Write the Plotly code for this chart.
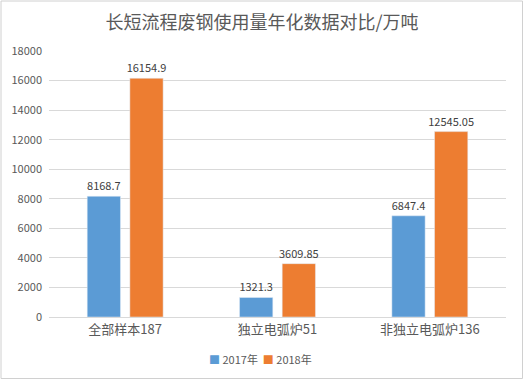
import plotly.graph_objects as go

categories = ["全部样本187", "独立电弧炉51", "非独立电弧炉136"]
series_names = ["2017年", "2018年"]
values_2017 = [8168.7, 1321.3, 6847.4]
values_2018 = [16154.9, 3609.85, 12545.05]
labels_2017 = ["8168.7", "1321.3", "6847.4"]
labels_2018 = ["16154.9", "3609.85", "12545.05"]
y_ticks = [0, 2000, 4000, 6000, 8000, 10000, 12000, 14000, 16000, 18000]
y_tick_labels = [str(v) for v in y_ticks]
colors = ["#5B9BD5", "#ED7D31"]

W, H = 524, 380
ml, mr, mt, mb = 49, 18, 51, 63
pw = W - ml - mr
ph = H - mt - mb

font_family = "Noto Sans CJK SC, Noto Sans, sans-serif"

fig = go.Figure()
fig.add_trace(go.Bar(x=categories, y=values_2017, name=series_names[0],
                     marker_color=colors[0], text=labels_2017,
                     textposition="outside", cliponaxis=False, constraintext="none",
                     textfont=dict(size=11, color="#404040")))
fig.add_trace(go.Bar(x=categories, y=values_2018, name=series_names[1],
                     marker_color=colors[1], text=labels_2018,
                     textposition="outside", cliponaxis=False, constraintext="none",
                     textfont=dict(size=11, color="#404040")))

legend_text = "  ".join(
    f'<span style="color:{c}">■</span> {n}' for c, n in zip(colors, series_names)
)

fig.update_layout(
    width=W, height=H,
    margin=dict(l=ml, r=mr, t=mt, b=mb, autoexpand=False),
    paper_bgcolor="white", plot_bgcolor="white",
    font=dict(family=font_family, color="#595959"),
    title=dict(text="长短流程废钢使用量年化数据对比/万吨", x=0.5, xanchor="center",
               y=1 - 23 / H, yanchor="middle",
               font=dict(size=18, color="#595959", family=font_family)),
    barmode="group", bargap=0.44, bargroupgap=0.22,
    showlegend=False,
    annotations=[dict(text=legend_text, xref="paper", yref="paper",
                      x=(260 - ml) / pw, y=-(359 - mt - ph) / ph,
                      xanchor="center", yanchor="middle", showarrow=False,
                      font=dict(size=11, color="#595959", family=font_family))],
    xaxis=dict(showline=True, linecolor="#d9d9d9", linewidth=1, ticks="",
               automargin=False, tickfont=dict(size=13, color="#595959")),
    yaxis=dict(range=[0, 18000], tickvals=y_ticks, ticktext=y_tick_labels,
               showgrid=True, gridcolor="#d9d9d9", automargin=False,
               zeroline=False, ticks="", ticklabelstandoff=6,
               tickfont=dict(size=11, color="#595959")),
    shapes=[dict(type="rect", xref="paper", yref="paper",
                 x0=-(ml - 1) / pw, x1=1 + (mr - 1.5) / pw,
                 y0=-(mb - 1.5) / ph, y1=1 + (mt - 1) / ph,
                 line=dict(color="#d0d0d0", width=1), layer="below")],
)

fig.write_html("out.html", config={"displayModeBar": False},
               post_script="document.body.style.margin='0';document.body.style.overflow='hidden';")
